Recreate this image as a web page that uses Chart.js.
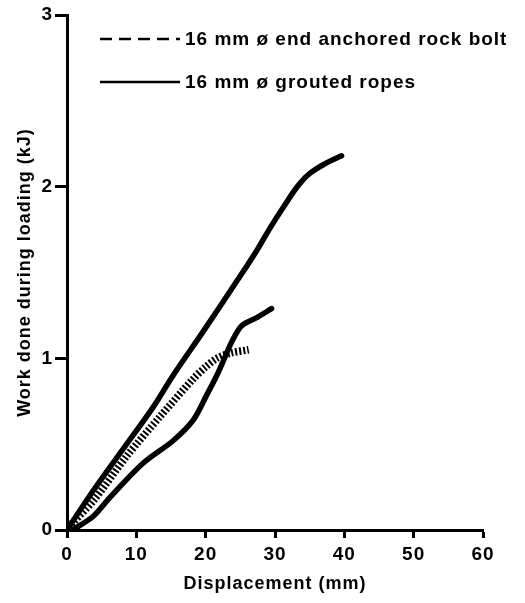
<!DOCTYPE html>
<html>
<head>
<meta charset="utf-8">
<script src="https://cdn.jsdelivr.net/npm/chart.js@4.4.1/dist/chart.umd.min.js"></script>
<style>
  html, body { margin: 0; padding: 0; background: #fff; }
  #wrap { width: 525px; height: 603px; }
</style>
</head>
<body>
<div id="wrap"><canvas id="myChart" width="525" height="603"></canvas></div>
<script>
// displacement (mm) / work done (kJ)
const ropeUpperX = [0, 3.8, 8.6, 12.5, 15.3, 19.7, 24.5, 27.4, 29.3, 31.2, 33.4, 35.1, 37.5, 39.6];
const ropeUpperY = [0, 0.23, 0.50, 0.72, 0.90, 1.16, 1.45, 1.63, 1.76, 1.88, 2.01, 2.08, 2.14, 2.18];

const ropeLowerX = [0.8, 3.8, 6.2, 11, 15.3, 18.2, 20.2, 21.6, 22.6, 23.8, 25.2, 27.5, 29.5];
const ropeLowerY = [0, 0.08, 0.19, 0.39, 0.52, 0.64, 0.79, 0.90, 0.99, 1.10, 1.19, 1.24, 1.29];

const boltX = [0.3, 3.8, 8.6, 13.4, 18.2, 20, 21.6, 23.5, 26.2];
const boltY = [0.02, 0.17, 0.43, 0.66, 0.88, 0.95, 1.00, 1.03, 1.05];

const xTicks = [0, 10, 20, 30, 40, 50, 60];
const yTicks = [0, 1, 2, 3];

const legendLabels = ['16 mm \u00f8 end anchored rock bolt', '16 mm \u00f8 grouted ropes'];

const FONT = 'Liberation Sans, Arial, Helvetica, sans-serif';

function toPoints(xs, ys) {
	return xs.map((x, i) => ({ x: x, y: ys[i] }));
}

// legend drawn inside the plot, top left
const insideLegend = {
	id: 'insideLegend',
	beforeDraw(chart) {
		chart.ctx.letterSpacing = '1px';
	},
	afterDraw(chart) {
		const ctx = chart.ctx;
		const rows = [
			{ y: 39, dash: [12, 7], text: legendLabels[0] },
			{ y: 82, dash: [], text: legendLabels[1] }
		];
		ctx.save();
		ctx.strokeStyle = '#000';
		ctx.fillStyle = '#000';
		ctx.lineWidth = 2.5;
		ctx.font = 'bold 19px ' + FONT;
		ctx.textBaseline = 'middle';
		ctx.letterSpacing = '1px';
		rows.forEach(r => {
			ctx.setLineDash(r.dash);
			ctx.beginPath();
			ctx.moveTo(100, r.y);
			ctx.lineTo(180, r.y);
			ctx.stroke();
			ctx.fillText(r.text, 185, r.y + 1);
		});
		ctx.restore();
	}
};

const ctx = document.getElementById('myChart').getContext('2d');
const myChart = new Chart(ctx, {
	type: 'scatter',
	data: {
		datasets: [{
			label: legendLabels[1],
			data: toPoints(ropeUpperX, ropeUpperY),
			showLine: true,
			borderColor: '#000',
			borderWidth: 5.5,
			tension: 0.4,
			pointRadius: 0,
			borderCapStyle: 'round'
		}, {
			label: legendLabels[1],
			data: toPoints(ropeLowerX, ropeLowerY),
			showLine: true,
			borderColor: '#000',
			borderWidth: 5.5,
			tension: 0.3,
			pointRadius: 0,
			borderCapStyle: 'round'
		}, {
			label: legendLabels[0],
			data: toPoints(boltX, boltY),
			showLine: true,
			borderColor: '#000',
			borderWidth: 7.5,
			borderDash: [2, 2],
			borderCapStyle: 'butt',
			tension: 0.3,
			pointRadius: 0
		}]
	},
	options: {
		responsive: false,
		animation: false,
		events: [],
		layout: { padding: { top: 15, right: 42, left: 0, bottom: 0 } },
		plugins: {
			legend: { display: false },
			tooltip: { enabled: false }
		},
		scales: {
			x: {
				type: 'linear',
				min: 0,
				max: 60,
				afterFit(scale) { scale.height = 73; },
				afterBuildTicks(scale) { scale.ticks = xTicks.map(v => ({ value: v })); },
				border: { display: true, color: '#000', width: 3 },
				grid: { drawOnChartArea: false, drawTicks: true, tickLength: 8, tickWidth: 3, tickColor: '#000' },
				ticks: { color: '#000', padding: 5, maxRotation: 0, font: { family: FONT, size: 19, weight: 'bold' } },
				title: {
					display: true,
					text: 'Displacement (mm)',
					color: '#000',
					padding: { top: 0, bottom: 8 },
					font: { family: FONT, size: 18, weight: 'bold' }
				}
			},
			y: {
				type: 'linear',
				min: 0,
				max: 3,
				afterFit(scale) { scale.width = 67; },
				afterBuildTicks(scale) { scale.ticks = yTicks.map(v => ({ value: v })); },
				border: { display: true, color: '#000', width: 3 },
				grid: { drawOnChartArea: false, drawTicks: true, tickLength: 12, tickWidth: 3, tickColor: '#000' },
				ticks: { color: '#000', padding: 2, font: { family: FONT, size: 19, weight: 'bold' } },
				title: {
					display: true,
					text: 'Work done during loading (kJ)',
					color: '#000',
					padding: { top: 14, bottom: 0 },
					font: { family: FONT, size: 18, weight: 'bold' }
				}
			}
		}
	},
	plugins: [insideLegend]
});
</script>
</body>
</html>
